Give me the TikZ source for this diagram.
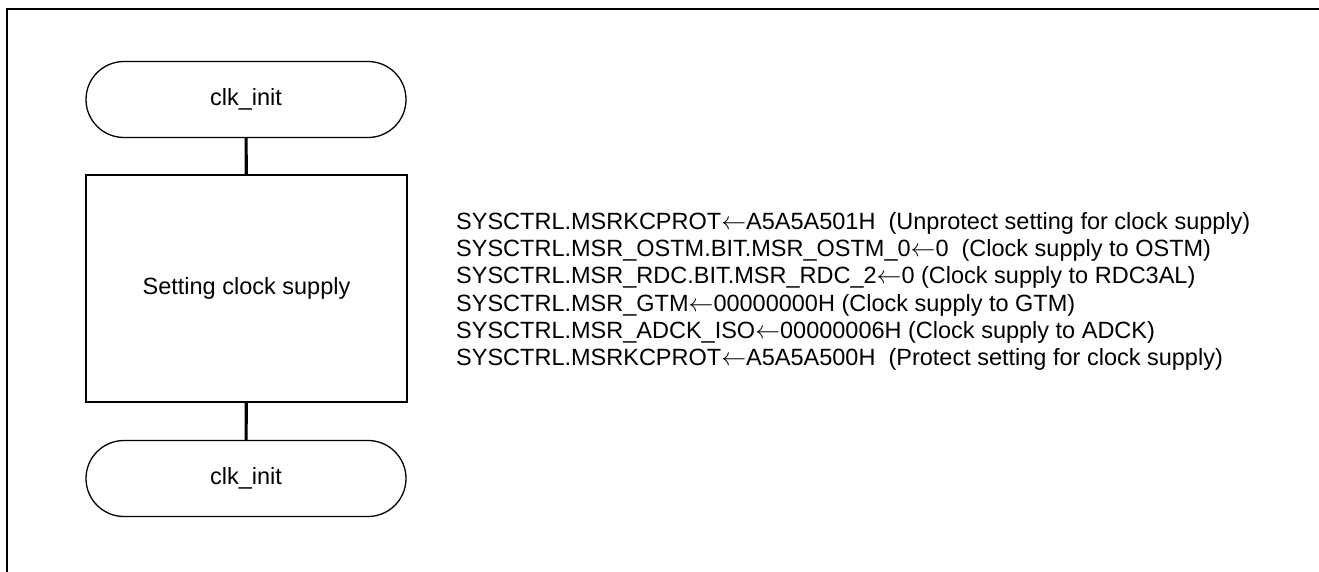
\documentclass[tikz,border=0pt]{standalone}
\usepackage{fontspec}
\setmainfont{Liberation Sans}
\usetikzlibrary{shapes.misc}
\newcommand{\assignarrow}{\ensuremath{\leftarrow}}
\begin{document}
\begin{tikzpicture}[x=1pt,y=-1pt,
  frameline/.style={line width=2pt},
  terminal/.style={draw, rounded rectangle, rounded rectangle arc length=180,
    line width=1.3pt, minimum width=320pt, minimum height=76pt, inner sep=0pt,
    font=\fontsize{23.5}{27.3}\selectfont},
  process/.style={draw, rectangle, line width=1.3pt, minimum width=321pt,
    minimum height=227pt, inner sep=0pt, font=\fontsize{23.5}{27.3}\selectfont},
  conn/.style={line width=3.2pt},
  opline/.style={anchor=base west, inner sep=0pt, font=\fontsize{23.5}{27.3}\selectfont}
]
\useasboundingbox (0,0) rectangle (1319,572);

% outer frame (top and left edges)
\draw[frameline] (6.5,572) -- (6.5,9) -- (1319,9);

% flowchart
\node[terminal] (start) at (246,99.5) {clk\_init};
\node[process] (clk) at (246.5,288.5) {Setting clock supply};
\node[terminal] (stop) at (246,478.5) {clk\_init};

\draw[conn] (start) -- (clk);
\draw[conn] (clk) -- (stop);

% register operations performed by the process
\node[opline] (op1) at (456,229.3) {SYSCTRL.MSRKCPROT\assignarrow A5A5A501H\ \ (Unprotect setting for clock supply)};
\node[opline] (op2) at (456,256.6) {SYSCTRL.MSR\_OSTM.BIT.MSR\_OSTM\_0\assignarrow 0\ \ (Clock supply to OSTM)};
\node[opline] (op3) at (456,283.9) {SYSCTRL.MSR\_RDC.BIT.MSR\_RDC\_2\assignarrow 0 (Clock supply to RDC3AL)};
\node[opline] (op4) at (456,311.2) {SYSCTRL.MSR\_GTM\assignarrow 00000000H (Clock supply to GTM)};
\node[opline] (op5) at (456,338.5) {SYSCTRL.MSR\_ADCK\_ISO\assignarrow 00000006H (Clock supply to ADCK)};
\node[opline] (op6) at (456,365.8) {SYSCTRL.MSRKCPROT\assignarrow A5A5A500H\ \ (Protect setting for clock supply)};
\end{tikzpicture}
\end{document}
